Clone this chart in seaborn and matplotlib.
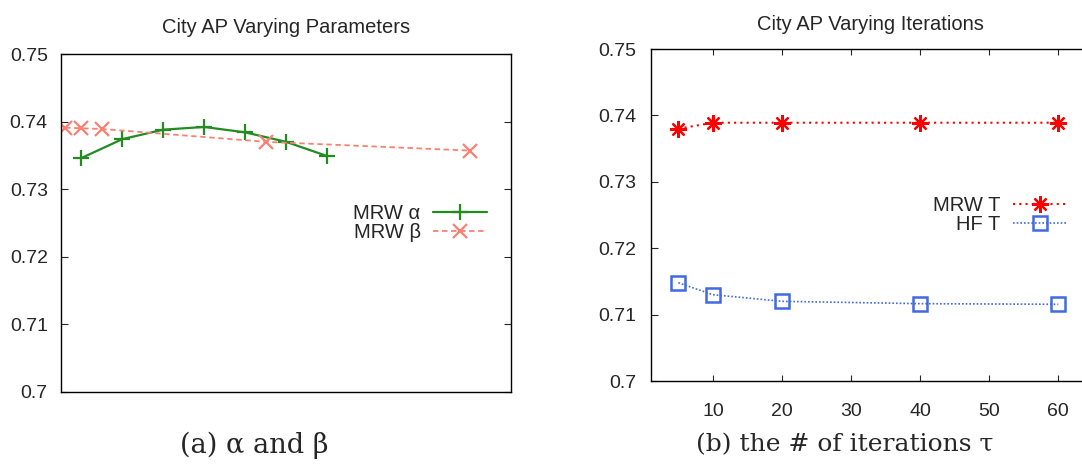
import matplotlib
matplotlib.use("Agg")
import matplotlib.pyplot as plt
import seaborn as sns

# --- data -------------------------------------------------------------
alpha_x = [0.05, 0.15, 0.25, 0.35, 0.45, 0.55, 0.65]
alpha_ap = [0.7346, 0.7374, 0.7388, 0.7392, 0.7384, 0.7370, 0.7349]

beta_x = [0.01, 0.05, 0.1, 0.5, 1.0]
beta_ap = [0.7391, 0.7390, 0.7389, 0.7370, 0.7357]

iters = [5, 10, 20, 40, 60]
mrw_t_ap = [0.7380, 0.7389, 0.7389, 0.7389, 0.7389]
hf_t_ap = [0.7148, 0.7130, 0.7120, 0.71165, 0.71155]

y_ticks = [0.70, 0.71, 0.72, 0.73, 0.74, 0.75]
y_tick_labels = ["0.7", "0.71", "0.72", "0.73", "0.74", "0.75"]
x_ticks_iter = [10, 20, 30, 40, 50, 60]

titles = ["City AP Varying Parameters", "City AP Varying Iterations"]
captions = ["(a) \u03b1 and \u03b2", "(b) the # of iterations \u03c4"]

GREEN = "#228B22"
SALMON = "#FA8072"
RED = "#FF0000"
BLUE = "#4169E1"

# --- style ------------------------------------------------------------
sns.set_style("ticks")
plt.rcParams["font.family"] = ["Liberation Sans", "DejaVu Sans"]
plt.rcParams["axes.linewidth"] = 1.0

fig = plt.figure(figsize=(10.82, 4.66), dpi=100)
ax1 = fig.add_axes([0.0564, 0.1594, 0.4159, 0.7247])
# the right panel's frame runs past the figure edge
ax2 = fig.add_axes([0.6014, 0.1824, 0.4060, 0.7124])

# left panel: alpha / beta sweep
sns.lineplot(x=alpha_x, y=alpha_ap, ax=ax1, color=GREEN, lw=1.6,
             marker="+", markersize=11, mew=1.6, mec=GREEN,
             label="MRW \u03b1", sort=False, errorbar=None)
sns.lineplot(x=beta_x, y=beta_ap, ax=ax1, color=SALMON, lw=1.3,
             linestyle=(0, (3, 2)), marker="x", markersize=10, mew=1.6,
             mec=SALMON, label="MRW \u03b2", sort=False, errorbar=None)
ax1.set_xlim(0, 1.1)
ax1.set_xticks([])

# right panel: number of iterations
sns.lineplot(x=iters, y=mrw_t_ap, ax=ax2, color=RED, lw=1.5,
             linestyle=(0, (1, 2)), marker=(8, 2, 0), markersize=12, mew=1.6,
             mec=RED, label="MRW T", sort=False, errorbar=None)
sns.lineplot(x=iters, y=hf_t_ap, ax=ax2, color=BLUE, lw=1.2,
             linestyle=(0, (1, 1.2)), marker="s", markersize=10, mew=1.8,
             mec=BLUE, mfc="none", label="HF T", sort=False, errorbar=None)
ax2.set_xlim(1, 64.6)
ax2.set_xticks(x_ticks_iter)
ax2.set_xticklabels([str(v) for v in x_ticks_iter])

for ax, title, pad in [(ax1, titles[0], 15), (ax2, titles[1], 13.5)]:
    ax.set_ylim(0.70, 0.75)
    ax.set_yticks(y_ticks)
    ax.set_yticklabels(y_tick_labels)
    ax.set_xlabel("")
    ax.set_ylabel("")
    ax.set_title(title, fontsize=14.5, pad=pad)
    for sp in ax.spines.values():
        sp.set_visible(True)
        sp.set_color("black")
        sp.set_linewidth(1.0)
    ax.tick_params(axis="y", direction="in", length=5, width=0.8,
                   left=True, right=True, labelsize=14, pad=9.5)
    ax.tick_params(axis="x", direction="in", length=4.5, width=0.8,
                   top=True, bottom=True, labelsize=14, pad=16)

ax2.tick_params(axis="y", pad=10.5, right=False)
ax2.spines["right"].set_visible(False)

# legends: label first, sample on the right, right-aligned
leg_kw = dict(frameon=False, markerfirst=False, fontsize=14.5,
              handlelength=2.7, handletextpad=0.6, labelspacing=0.0,
              borderpad=0, borderaxespad=0, numpoints=1,
              bbox_transform=fig.transFigure, loc="center right")
ax1.legend(bbox_to_anchor=(487 / 1082, 1 - 223 / 466), **leg_kw)
ax2.legend(bbox_to_anchor=(1067 / 1082, 1 - 215 / 466), **leg_kw)

# sub-figure captions
fig.text(254 / 1082, 1 - 445 / 466, captions[0], ha="center", va="center",
         fontsize=19.5, family="DejaVu Serif")
fig.text(845 / 1082, 1 - 445 / 466, captions[1], ha="center", va="center",
         fontsize=18, family="DejaVu Serif")

fig.savefig("out.png", dpi=100)
